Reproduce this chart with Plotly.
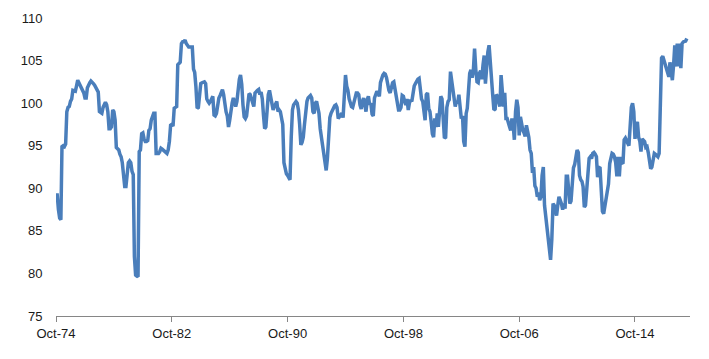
import pandas as pd
import plotly.graph_objects as go

# Monthly index values, Oct-1974 onward
v_1974_1978 = [89.2, 89.2, 87.5, 86.5, 86.3, 94.9, 95.0, 94.9, 95.2, 99.0,
               99.5, 99.6, 100.2, 100.5, 101.5, 101.5, 101.4, 102.0, 102.7, 102.4,
               102.1, 101.8, 101.7, 101.2, 100.6, 100.6, 101.8, 102.2, 102.4, 102.6,
               102.5, 102.3, 102.1, 101.8, 101.5, 101.3, 99.0, 98.9, 98.8, 99.5,
               100.0, 100.1, 99.8, 99.0, 97.0]
v_1978_1982 = [97.0, 97.2, 99.2, 99.0, 98.0, 94.8, 94.7, 94.5, 94.0, 93.7,
               93.0, 91.5, 90.2, 90.2, 92.0, 93.0, 93.2, 93.0, 92.0, 91.6,
               82.0, 79.8, 79.7, 79.6, 94.3, 94.5, 96.4, 96.5, 95.8, 95.5,
               95.5, 95.6, 96.8, 97.0, 98.0, 98.6, 98.8, 98.8, 94.1, 94.1,
               94.1, 94.3, 94.7, 94.6, 94.5, 94.4, 94.3, 94.1]
v_1982_1986 = [94.5, 95.5, 97.4, 97.5, 97.3, 99.4, 99.5, 99.6, 104.5, 104.7,
               104.8, 107.0, 107.2, 107.2, 107.4, 107.0, 106.7, 106.6, 106.6, 106.6,
               106.6, 104.0, 103.6, 101.9, 99.4, 99.5, 101.5, 102.3, 102.4, 102.5,
               102.5, 102.3, 100.5, 100.2, 100.0, 100.2, 100.5, 100.8, 98.6, 98.5,
               98.8, 99.8, 100.6, 100.9, 101.2]
v_1986_1990 = [101.6, 101.0, 99.6, 99.0, 98.5, 97.2, 98.0, 99.5, 100.0, 100.6,
               99.8, 99.6, 100.2, 102.0, 102.8, 103.3, 102.2, 99.8, 98.4, 98.2,
               98.5, 99.8, 101.1, 101.0, 100.4, 100.0, 99.6, 101.2, 101.4, 101.5,
               101.6, 101.0, 101.3, 100.5, 98.5, 97.0, 97.2, 99.2, 101.0, 101.5,
               100.8, 100.0, 99.2, 99.6, 100.0, 100.2, 99.0, 99.2]
v_1990_1994 = [99.0, 98.2, 97.5, 93.0, 92.0, 91.7, 91.5, 91.2, 91.0, 96.0,
               99.2, 99.8, 100.0, 100.2, 100.0, 99.2, 97.5, 95.1, 95.4, 96.0,
               97.5, 99.5, 100.2, 100.6, 100.8, 100.9, 100.6, 99.0, 98.8, 100.0,
               100.2, 99.5, 98.8, 97.0, 96.0, 94.5, 93.5, 92.5, 92.1, 93.5,
               96.0, 98.3, 98.8, 99.2, 99.6, 99.7, 99.8, 99.5, 98.2, 98.4,
               98.6, 98.8]
v_1994_1998 = [98.3, 102.0, 103.3, 102.0, 101.5, 100.5, 99.8, 99.6, 99.5, 100.0,
               100.8, 101.2, 101.2, 101.0, 99.8, 99.3, 100.2, 100.6, 99.8, 99.0,
               100.4, 100.8, 99.8, 100.0, 98.7, 98.5, 100.6, 101.2, 101.4, 101.2,
               100.8, 102.4, 103.0, 103.3, 103.5, 103.4, 103.0, 102.0, 101.5, 101.2,
               101.8, 102.4, 102.5, 101.8, 101.0, 100.2, 99.2]
v_1998_2002 = [99.2, 99.5, 100.9, 100.8, 100.2, 99.8, 100.5, 99.2, 100.0, 100.4,
               100.2, 101.2, 102.0, 102.3, 102.7, 102.8, 102.9, 101.8, 100.5, 100.2,
               99.0, 98.0, 101.0, 101.2, 99.4, 99.0, 97.8, 96.4, 96.0, 98.2,
               97.2, 98.8, 97.2, 99.0, 100.8, 100.5, 97.0, 95.9, 96.0, 99.5,
               100.2, 100.4, 103.7, 102.5, 102.1, 101.0, 99.6, 100.2]
v_2002_2006 = [100.0, 101.0, 99.5, 98.2, 98.5, 95.5, 94.9, 98.8, 99.4, 101.5,
               103.5, 103.9, 103.0, 103.8, 106.4, 104.0, 102.5, 102.4, 103.5, 103.8,
               102.8, 104.5, 105.6, 102.3, 104.5, 106.0, 106.8, 104.5, 103.3, 101.0,
               99.2, 99.3, 101.0, 100.8, 100.2, 99.6, 103.3, 101.5, 99.6, 101.2,
               98.2, 98.2, 97.5, 97.2, 96.8]
v_2006_2010 = [98.2, 97.5, 95.7, 99.0, 100.4, 99.5, 96.2, 98.4, 97.5, 96.8,
               96.5, 96.1, 97.4, 96.8, 96.0, 94.5, 94.1, 91.8, 92.5, 90.3,
               90.0, 89.0, 89.5, 88.6, 89.0, 91.5, 92.5, 88.0, 86.7, 85.0,
               83.5, 82.4, 81.6, 84.0, 88.2, 88.0, 87.5, 86.8, 88.0, 89.0,
               88.6, 88.2, 87.5, 88.2, 87.6, 91.4, 91.4]
v_2010_2014 = [90.0, 88.2, 88.5, 90.5, 92.4, 92.8, 93.5, 94.5, 94.2, 91.5,
               91.0, 90.8, 90.2, 87.8, 88.0, 89.5, 91.5, 93.5, 93.7, 93.5,
               94.1, 94.2, 94.0, 93.7, 91.3, 92.4, 92.5, 90.5, 87.3, 87.0,
               88.0, 89.0, 89.8, 90.5, 92.9, 93.7, 94.1, 94.0, 93.7, 93.0,
               91.4, 93.7, 91.4, 93.7, 93.0, 92.9, 95.7, 95.9, 95.7]
v_2014_2018 = [95.3, 95.0, 97.5, 99.5, 100.0, 99.0, 95.8, 97.5, 97.8, 96.0,
               95.5, 94.3, 95.8, 95.6, 95.5, 94.8, 94.9, 94.2, 93.5, 92.3,
               92.5, 93.5, 94.1, 94.0, 93.8, 93.7, 94.1, 99.0, 105.3, 105.5,
               105.0, 104.5, 104.0, 103.3, 103.1, 104.8, 103.5, 102.7, 104.5, 106.8,
               104.3, 107.0, 104.3, 107.0, 104.1, 107.0, 107.2, 107.2, 107.3, 107.6]

values = (v_1974_1978 + v_1978_1982 + v_1982_1986 + v_1986_1990 + v_1990_1994
          + v_1994_1998 + v_1998_2002 + v_2002_2006 + v_2006_2010 + v_2010_2014
          + v_2014_2018)
dates = pd.date_range("1974-10-01", periods=len(values), freq="MS")

tick_dates = ["1974-10-01", "1982-10-01", "1990-10-01", "1998-10-01", "2006-10-01", "2014-10-01"]
tick_labels = ["Oct-74", "Oct-82", "Oct-90", "Oct-98", "Oct-06", "Oct-14"]
y_ticks = [75, 80, 85, 90, 95, 100, 105, 110]

fig = go.Figure()
fig.add_trace(go.Scatter(x=dates, y=values, mode="lines",
                         line=dict(color="#4A7EBB", width=3.5), showlegend=False))

font = dict(family="Liberation Sans, Arial, sans-serif", size=13, color="#1a1a1a")
fig.update_layout(
    width=709, height=359,
    margin=dict(l=56, r=19, t=18, b=43),
    paper_bgcolor="white", plot_bgcolor="white",
    font=font,
    xaxis=dict(type="date", range=["1974-10-01", "2018-07-20"],
               tickvals=tick_dates, ticktext=tick_labels,
               ticks="outside", ticklen=5, tickcolor="#868686",
               showline=True, linecolor="#868686", linewidth=1,
               showgrid=False, zeroline=False, tickfont=font),
    yaxis=dict(range=[75, 110], tickvals=y_ticks,
               ticks="outside", ticklen=10, tickcolor="rgba(0,0,0,0)",
               showline=False, showgrid=False, zeroline=False, tickfont=font),
)
fig.write_html("out.html")
